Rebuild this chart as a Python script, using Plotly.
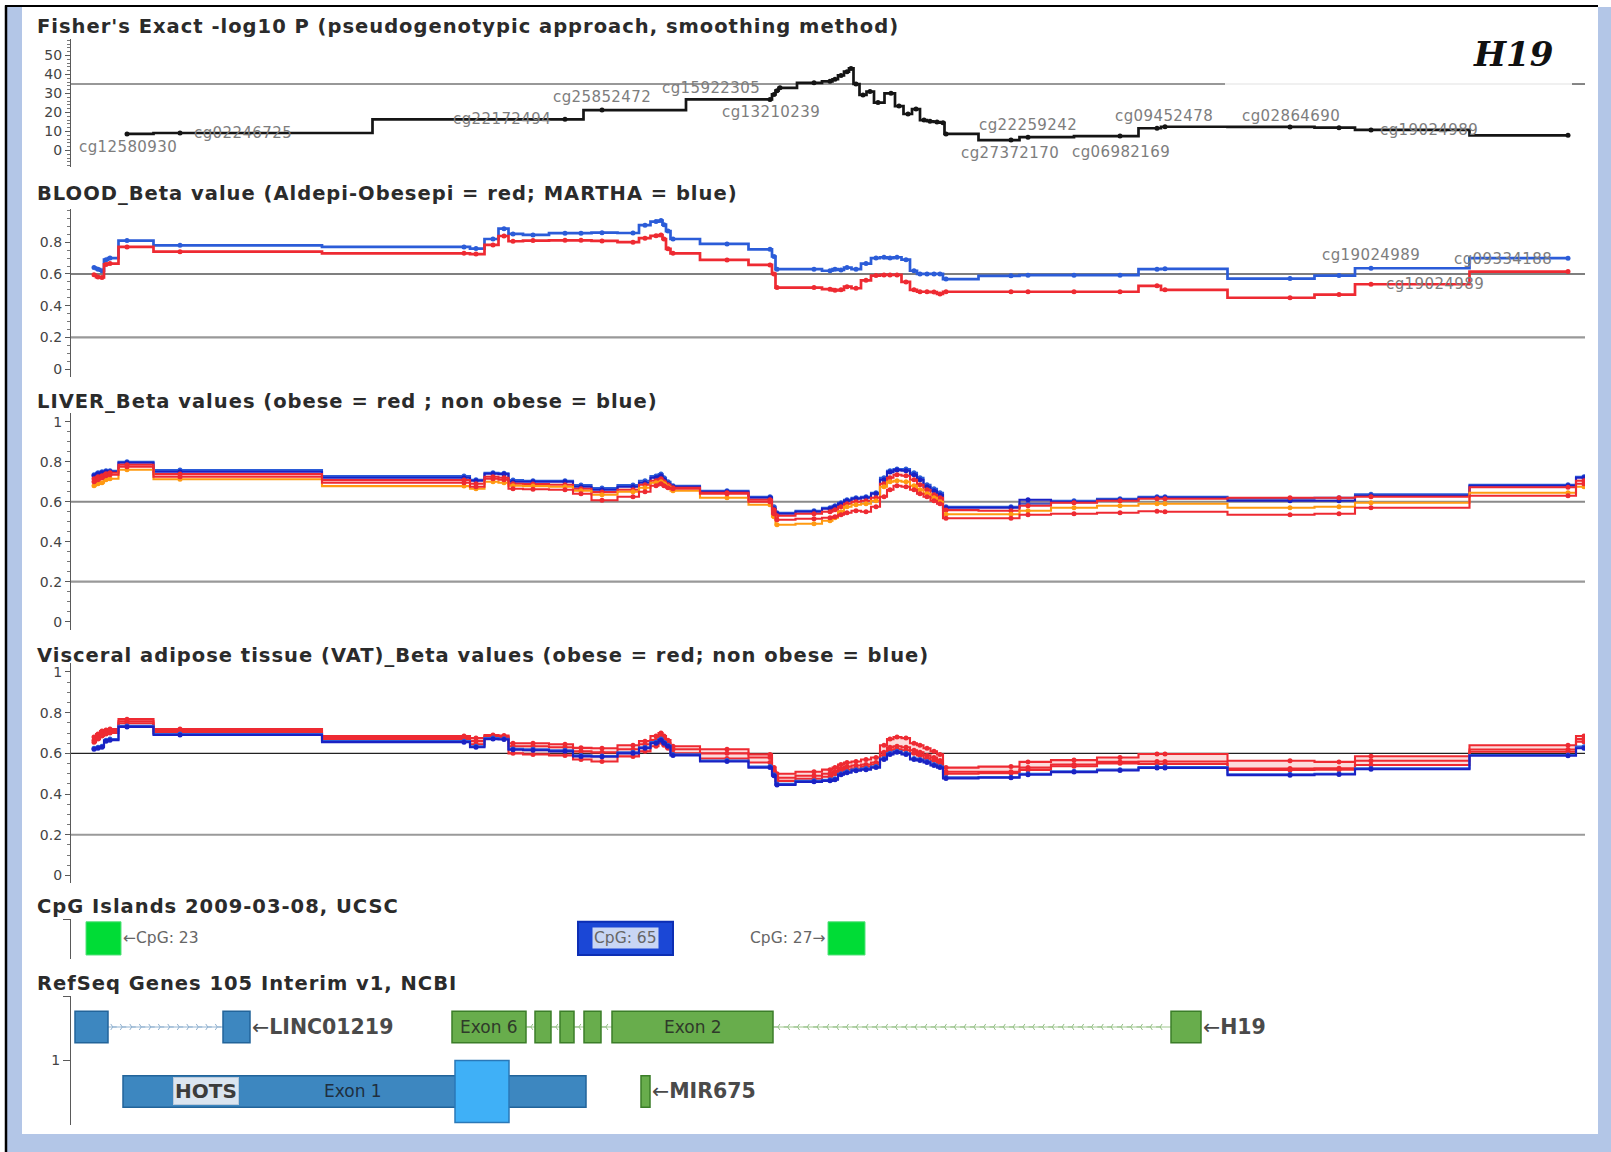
import numpy as np
import plotly.graph_objects as go

W, H = 1611, 1152
X0, X1 = 71, 1585  # horizontal span of the locus tracks (page px == track coordinate)

# ---------------------------------------------------------------- data
# CpG probe positions along the locus (track coordinate)
probe_pos = [94, 98, 102, 106, 110, 127, 180, 464, 476, 493, 504, 513, 533,
             565, 581, 602, 633, 645, 656, 661, 664, 668, 673, 727, 770, 774, 777,
             814, 830, 835, 841, 847, 856, 866, 876, 884, 890, 897, 906, 914, 920,
             927, 934, 940, 946, 1011, 1028, 1074, 1120, 1157, 1165, 1290, 1339,
             1371, 1568, 1584]

# Fisher exact test (-log10 P), smoothed
fisher_pos = [127, 180, 565, 602, 770, 774, 777, 780, 814, 830, 835, 841, 847, 851,
              856, 863, 870, 878, 891, 899, 908, 916, 924, 930, 937, 943, 946, 1011,
              1028, 1120, 1157, 1165, 1290, 1339, 1371, 1568]
fisher_val = [8.7, 9.2, 16.4, 21.3, 26.9, 29.5, 31.5, 33.0, 35.6, 36.4, 37.5, 39.5,
              41.5, 43.2, 35.0, 29.2, 31.0, 25.2, 30.1, 23.4, 19.2, 21.8, 16.0, 15.4,
              15.0, 14.6, 8.7, 5.5, 7.0, 7.6, 11.7, 12.5, 12.4, 12.0, 10.8, 8.0]
fisher_threshold = 35.0
fisher_labels = ["cg12580930", "cg02246725", "cg22172494", "cg25852472", "cg15922305",
                 "cg13210239", "cg22259242", "cg27372170", "cg06982169", "cg09452478",
                 "cg02864690", "cg19024989"]
fisher_label_x = [128, 243, 502, 602, 711, 771, 1028, 1010, 1121, 1164, 1291, 1429]
fisher_label_y = [2.0, 9.2, 16.4, 28.0, 32.7, 20.1, 13.4, -1.5, -0.6, 18.2, 18.2, 10.8]

# Blood beta values
blood_martha = [0.64, 0.63, 0.62, 0.69, 0.70, 0.81, 0.78, 0.77, 0.76, 0.82, 0.885, 0.852,
                0.846, 0.857, 0.857, 0.86, 0.858, 0.907, 0.93, 0.936, 0.91, 0.87, 0.82,
                0.789, 0.755, 0.71, 0.63, 0.63, 0.62, 0.63, 0.625, 0.64, 0.63, 0.665,
                0.70, 0.705, 0.70, 0.705, 0.69, 0.62, 0.60, 0.60, 0.60, 0.60, 0.568,
                0.588, 0.592, 0.592, 0.592, 0.63, 0.632, 0.571, 0.59, 0.636, 0.699, None]
blood_aldepi = [0.595, 0.58, 0.578, 0.66, 0.665, 0.77, 0.74, 0.73, 0.725, 0.783, 0.839,
                0.806, 0.81, 0.812, 0.812, 0.808, 0.80, 0.825, 0.84, 0.845, 0.82, 0.758,
                0.73, 0.688, 0.657, 0.60, 0.514, 0.514, 0.504, 0.497, 0.50, 0.52, 0.51,
                0.56, 0.59, 0.594, 0.594, 0.594, 0.55, 0.50, 0.488, 0.488, 0.486, 0.474,
                0.488, 0.488, 0.488, 0.488, 0.488, 0.525, 0.50, 0.45, 0.47, 0.535, 0.615, None]
blood_labels = ["cg19024989", "cg09334188", "cg19024989"]
blood_label_x = [1371, 1503, 1435]
blood_label_y = [0.72, 0.694, 0.537]

# Liver beta values
liver_nonobese_a = [0.735, 0.745, 0.75, 0.755, 0.755, 0.80, 0.758, 0.728, 0.71, 0.745, 0.742,
                    0.708, 0.705, 0.705, 0.683, 0.668, 0.683, 0.705, 0.728, 0.738, 0.72, 0.70,
                    0.68, 0.655, 0.625, 0.575, 0.545, 0.555, 0.57, 0.58, 0.595, 0.61, 0.62,
                    0.625, 0.645, 0.72, 0.755, 0.763, 0.763, 0.745, 0.72, 0.685, 0.665, 0.645,
                    0.575, 0.575, 0.59, 0.605, 0.615, 0.625, 0.625, 0.615, 0.62, 0.637, 0.685, 0.725]
liver_nonobese_b = [0.73, 0.74, 0.745, 0.75, 0.75, 0.795, 0.75, 0.72, 0.705, 0.74, 0.738,
                    0.70, 0.70, 0.70, 0.675, 0.66, 0.675, 0.695, 0.72, 0.73, 0.71, 0.69,
                    0.675, 0.65, 0.62, 0.565, 0.54, 0.55, 0.565, 0.575, 0.59, 0.605, 0.615,
                    0.62, 0.64, 0.71, 0.748, 0.758, 0.755, 0.735, 0.71, 0.675, 0.655, 0.635,
                    0.57, 0.57, 0.61, 0.598, 0.61, 0.62, 0.62, 0.605, 0.605, 0.63, 0.68, 0.72]
liver_obese_a = [0.715, 0.725, 0.73, 0.74, 0.745, 0.785, 0.738, 0.708, 0.69, 0.725, 0.72,
                 0.69, 0.688, 0.685, 0.665, 0.648, 0.66, 0.685, 0.705, 0.715, 0.70, 0.685,
                 0.67, 0.645, 0.61, 0.56, 0.53, 0.54, 0.55, 0.56, 0.575, 0.59, 0.60,
                 0.605, 0.62, 0.69, 0.72, 0.735, 0.73, 0.71, 0.685, 0.66, 0.635, 0.62,
                 0.558, 0.555, 0.58, 0.595, 0.605, 0.615, 0.615, 0.62, 0.62, 0.625, 0.672, 0.705]
liver_overweight = [0.68, 0.69, 0.695, 0.71, 0.715, 0.76, 0.712, 0.678, 0.665, 0.70, 0.695,
                    0.68, 0.678, 0.675, 0.655, 0.635, 0.65, 0.67, 0.695, 0.70, 0.69, 0.675,
                    0.655, 0.62, 0.585, 0.525, 0.485, 0.49, 0.505, 0.52, 0.55, 0.575, 0.585,
                    0.59, 0.605, 0.675, 0.70, 0.705, 0.70, 0.68, 0.66, 0.64, 0.62, 0.60,
                    0.537, 0.537, 0.555, 0.57, 0.58, 0.59, 0.59, 0.57, 0.575, 0.595, 0.645, 0.675]
liver_obese_b = [0.70, 0.71, 0.72, 0.73, 0.735, 0.775, 0.725, 0.695, 0.675, 0.715, 0.71,
                 0.665, 0.662, 0.66, 0.64, 0.607, 0.625, 0.65, 0.68, 0.69, 0.68, 0.67,
                 0.665, 0.64, 0.60, 0.54, 0.51, 0.515, 0.52, 0.525, 0.535, 0.545, 0.555,
                 0.55, 0.575, 0.625, 0.66, 0.68, 0.675, 0.66, 0.64, 0.625, 0.605, 0.59,
                 0.517, 0.517, 0.535, 0.54, 0.545, 0.552, 0.55, 0.535, 0.54, 0.57, 0.63, 0.69]

# Visceral adipose tissue beta values
vat_obese_hi = [0.68, 0.695, 0.71, 0.715, 0.72, 0.768, 0.72, 0.685, 0.675, 0.69, 0.688,
                0.65, 0.65, 0.645, 0.627, 0.625, 0.64, 0.66, 0.685, 0.70, 0.685, 0.665,
                0.635, 0.62, 0.595, 0.53, 0.50, 0.51, 0.52, 0.53, 0.545, 0.555, 0.56,
                0.57, 0.58, 0.64, 0.67, 0.68, 0.675, 0.65, 0.64, 0.625, 0.61, 0.595,
                0.53, 0.535, 0.558, 0.567, 0.58, 0.597, 0.597, 0.564, 0.558, 0.586, 0.64, 0.685]
vat_obese_mid = [0.665, 0.68, 0.695, 0.705, 0.71, 0.758, 0.71, 0.675, 0.66, 0.685, 0.683,
                 0.635, 0.635, 0.63, 0.61, 0.605, 0.62, 0.645, 0.665, 0.68, 0.665, 0.65,
                 0.62, 0.60, 0.58, 0.515, 0.48, 0.49, 0.50, 0.51, 0.525, 0.535, 0.54,
                 0.545, 0.555, 0.605, 0.63, 0.635, 0.63, 0.615, 0.605, 0.59, 0.58, 0.565,
                 0.51, 0.51, 0.53, 0.545, 0.558, 0.56, 0.56, 0.525, 0.527, 0.564, 0.619, 0.67]
vat_obese_lo = [0.655, 0.67, 0.685, 0.695, 0.70, 0.748, 0.70, 0.665, 0.645, 0.68, 0.678,
                0.60, 0.595, 0.59, 0.57, 0.56, 0.585, 0.61, 0.635, 0.655, 0.64, 0.625,
                0.60, 0.575, 0.555, 0.50, 0.465, 0.475, 0.485, 0.50, 0.51, 0.52, 0.525,
                0.535, 0.545, 0.59, 0.615, 0.62, 0.615, 0.60, 0.59, 0.575, 0.565, 0.55,
                0.50, 0.503, 0.518, 0.537, 0.551, 0.548, 0.548, 0.518, 0.52, 0.543, 0.608, 0.657]
vat_nonobese_a = [0.625, 0.63, 0.635, 0.665, 0.67, 0.735, 0.695, 0.66, 0.635, 0.675, 0.672,
                  0.622, 0.62, 0.615, 0.59, 0.587, 0.605, 0.63, 0.655, 0.67, 0.655, 0.64,
                  0.595, 0.565, 0.535, 0.495, 0.45, 0.465, 0.47, 0.475, 0.50, 0.51, 0.52,
                  0.525, 0.535, 0.575, 0.60, 0.61, 0.60, 0.575, 0.57, 0.56, 0.545, 0.535,
                  0.482, 0.483, 0.50, 0.512, 0.52, 0.533, 0.533, 0.497, 0.50, 0.526, 0.592, 0.633]
vat_nonobese_b = [0.62, 0.625, 0.63, 0.66, 0.665, 0.73, 0.69, 0.655, 0.63, 0.67, 0.668,
                  0.618, 0.615, 0.61, 0.585, 0.583, 0.60, 0.625, 0.65, 0.665, 0.65, 0.635,
                  0.59, 0.56, 0.53, 0.49, 0.445, 0.46, 0.465, 0.47, 0.495, 0.505, 0.515,
                  0.52, 0.53, 0.57, 0.595, 0.605, 0.595, 0.57, 0.565, 0.555, 0.54, 0.53,
                  0.477, 0.48, 0.495, 0.508, 0.516, 0.528, 0.528, 0.493, 0.496, 0.522, 0.588, 0.625]

# CpG islands (start, end, label)
cpg_start = [86, 578, 828]
cpg_end = [121, 673, 865]
cpg_name = ["CpG: 23", "CpG: 65", "CpG: 27"]

# RefSeq genes
linc_exons = [(75, 108), (223, 250)]
h19_exons = [(452, 526), (535, 551), (560, 574), (584, 601), (612, 773), (1171, 1201)]
h19_exon_names = ["Exon 6", "", "", "", "Exon 2", ""]
hots_exon = (123, 586)
hots_cds = (455, 509)
mir675_exon = (641, 650)

# ---------------------------------------------------------------- helpers
def pxx(x):
    return x / W


def pxy(y):
    return 1 - y / H


def spaced(text, px):
    return "<span style='letter-spacing:%.2fpx'>%s</span>" % (px, text)


FONT = "DejaVu Sans"
fig = go.Figure()

# panel layout: (top px, bottom px, y range)
panels = [
    (39, 167, [-8.7, 58.7]),
    (209, 377, [-0.049, 1.009]),
    (413, 630, [-0.0415, 1.0435]),
    (663, 883, [-0.037, 1.044]),
    (919, 959, [0, 1]),
    (996, 1125, [0, 2]),
]


def ax(i):
    return "" if i == 1 else str(i)


def add_step(xs, ys, color, panel, width=2.3, size=5, fill=None, fillcolor=None):
    fig.add_trace(go.Scatter(
        x=xs, y=ys, mode="lines+markers",
        line=dict(shape="hvh", color=color, width=width),
        marker=dict(size=size, color=color),
        fill=fill, fillcolor=fillcolor,
        xaxis="x" + ax(panel), yaxis="y" + ax(panel),
        hoverinfo="skip", showlegend=False))


BLUE = "#2b5cd8"
NAVY = "#1a22c4"
RED = "#ee2a32"
ORANGE = "#ff9a12"

# Fisher panel
add_step(fisher_pos, fisher_val, "#151515", 1, width=2.7, size=5)

# Blood panel
add_step(probe_pos, blood_martha, BLUE, 2, width=2.7)
add_step(probe_pos, blood_aldepi, RED, 2, width=2.7)

# Liver panel
add_step(probe_pos, liver_nonobese_a, BLUE, 3, width=2.1)
add_step(probe_pos, liver_nonobese_b, NAVY, 3, width=2.1, fill="tonexty", fillcolor="rgba(60,90,220,0.22)")
add_step(probe_pos, liver_obese_a, RED, 3, width=2.1, fill="tonexty", fillcolor="rgba(238,60,60,0.12)")
add_step(probe_pos, liver_overweight, ORANGE, 3, width=2.1)
add_step(probe_pos, liver_obese_b, RED, 3, width=2.1)

# VAT panel
add_step(probe_pos, vat_obese_hi, RED, 4, width=2.1)
add_step(probe_pos, vat_obese_mid, RED, 4, width=2.1, fill="tonexty", fillcolor="rgba(238,60,60,0.18)")
add_step(probe_pos, vat_obese_lo, RED, 4, width=2.1, fill="tonexty", fillcolor="rgba(238,60,60,0.18)")
add_step(probe_pos, vat_nonobese_a, BLUE, 4, width=2.1)
add_step(probe_pos, vat_nonobese_b, NAVY, 4, width=2.1, fill="tonexty", fillcolor="rgba(60,90,220,0.2)")

# intron chevrons on the gene track
def add_intron(x0, x1, y, color, chevron_color, symbol, spacing):
    fig.add_trace(go.Scatter(x=[x0, x1], y=[y, y], mode="lines",
                             line=dict(color=color, width=2),
                             xaxis="x6", yaxis="y6", hoverinfo="skip", showlegend=False))
    cx = np.arange(x0 + spacing / 2, x1 - 2, spacing)
    if len(cx):
        fig.add_trace(go.Scatter(x=cx, y=[y] * len(cx), mode="markers",
                                 marker=dict(symbol=symbol, size=5,
                                             line=dict(color=chevron_color, width=1)),
                                 xaxis="x6", yaxis="y6", hoverinfo="skip", showlegend=False))


ROW1, ROW2 = 1.52, 0.52
HALF = 0.245

for (a0, a1), (b0, b1) in zip(linc_exons[:-1], linc_exons[1:]):
    add_intron(a1, b0, ROW1, "#c9d9e8", "#8fb0cf", "y-right", 9.5)
for (a0, a1), (b0, b1) in zip(h19_exons[:-1], h19_exons[1:]):
    add_intron(a1, b0, ROW1, "#cfe3c6", "#93bf86", "y-left", 9.8)

# ---------------------------------------------------------------- axes
layout_axes = {}
for i, (top, bot, rng) in enumerate(panels, start=1):
    s = ax(i)
    layout_axes["xaxis" + s] = dict(domain=[pxx(X0), pxx(X1)], range=[X0, X1],
                                    visible=False, anchor="y" + s, fixedrange=True)
    yax = dict(domain=[pxy(bot), pxy(top)], range=rng, anchor="x" + s,
               showline=True, linecolor="#5a5a5a", linewidth=1.2,
               ticks="outside", ticklen=5, tickcolor="#5a5a5a", tickwidth=1,
               tickfont=dict(family=FONT, size=14, color="#444"),
               showgrid=False, zeroline=False, fixedrange=True)
    if i == 1:
        yax.update(tickmode="linear", tick0=0, dtick=10,
                   minor=dict(tickmode="linear", tick0=0, dtick=2, ticks="outside",
                              ticklen=3, tickcolor="#777"))
    elif i == 2:
        yax.update(tickmode="array", tickvals=[0, 0.2, 0.4, 0.6, 0.8],
                   ticktext=["0", "0.2", "0.4", "0.6", "0.8"],
                   minor=dict(tickmode="linear", tick0=0, dtick=0.05, ticks="outside",
                              ticklen=3, tickcolor="#777"))
    elif i in (3, 4):
        yax.update(tickmode="linear", tick0=0, dtick=0.2,
                   minor=dict(tickmode="linear", tick0=0, dtick=0.05, ticks="outside",
                              ticklen=3, tickcolor="#777"))
    elif i == 5:
        yax.update(tickmode="array", tickvals=[1], ticktext=[""], ticklen=7)
    else:
        yax.update(tickmode="array", tickvals=[1, 2], ticktext=["1", ""], ticklen=7)
    layout_axes["yaxis" + s] = yax

# ---------------------------------------------------------------- shapes
shapes = []
# page frame
shapes.append(dict(type="rect", xref="paper", yref="paper", layer="below",
                   x0=pxx(7), x1=1, y0=0, y1=pxy(7),
                   fillcolor="#b3c6e7", line=dict(width=0)))
shapes.append(dict(type="rect", xref="paper", yref="paper", layer="below",
                   x0=pxx(22), x1=pxx(1598), y0=pxy(1134), y1=pxy(7),
                   fillcolor="white", line=dict(width=0)))
shapes.append(dict(type="line", xref="paper", yref="paper", x0=pxx(6), x1=pxx(6),
                   y0=0, y1=pxy(5.5), line=dict(color="black", width=2.5)))
shapes.append(dict(type="line", xref="paper", yref="paper", x0=pxx(5), x1=pxx(1598),
                   y0=pxy(6), y1=pxy(6), line=dict(color="black", width=2)))

# reference lines
def hline(panel, y, color, width, x0=0, x1=1):
    shapes.append(dict(type="line", xref="x%s domain" % ax(panel), yref="y" + ax(panel),
                       x0=x0, x1=x1, y0=y, y1=y, layer="below",
                       line=dict(color=color, width=width)))


split = (1225 - X0) / (X1 - X0)
split2 = (1572 - X0) / (X1 - X0)
hline(1, fisher_threshold, "#333", 1.2, 0, split)
hline(1, fisher_threshold, "#e2e2e2", 1.2, split, split2)
hline(1, fisher_threshold, "#333", 1.2, split2, 1)
hline(2, 0.6, "#555", 1.5)
hline(2, 0.2, "#999", 2.2)
hline(3, 0.6, "#8a8a8a", 2)
hline(3, 0.2, "#999", 2.2)
hline(4, 0.6, "#222", 1.2)
hline(4, 0.2, "#9a9a9a", 2.2)

# CpG islands
for s0, s1, name in zip(cpg_start, cpg_end, cpg_name):
    big = name == "CpG: 65"
    shapes.append(dict(type="rect", xref="x5", yref="y5", x0=s0, x1=s1, y0=0.1, y1=0.93,
                       fillcolor="#1b47d6" if big else "#00dc36",
                       line=dict(color="#0c2eb4" if big else "#56e07c", width=2 if big else 1)))

# genes
def exon(x0, x1, yc, half, fill, edge):
    shapes.append(dict(type="rect", xref="x6", yref="y6", x0=x0, x1=x1,
                       y0=yc - half, y1=yc + half, fillcolor=fill,
                       line=dict(color=edge, width=1.5)))


for e0, e1 in linc_exons:
    exon(e0, e1, ROW1, HALF, "#3d87c0", "#22649a")
for e0, e1 in h19_exons:
    exon(e0, e1, ROW1, HALF, "#68ad4c", "#3b7d28")
exon(hots_exon[0], hots_exon[1], ROW2, HALF, "#3d87c0", "#22649a")
exon(hots_cds[0], hots_cds[1], ROW2, 0.48, "#3fb0f7", "#2a78b8")
exon(mir675_exon[0], mir675_exon[1], ROW2, HALF, "#68ad4c", "#3b7d28")

# ---------------------------------------------------------------- annotations
ann = []
titles = [
    ("Fisher's Exact -log10 P (pseudogenotypic approach, smoothing method)", 26.5),
    ("BLOOD_Beta value (Aldepi-Obesepi = red; MARTHA = blue)", 193),
    ("LIVER_Beta values (obese = red ; non obese = blue)", 401.5),
    ("Visceral adipose tissue (VAT)_Beta values (obese = red; non obese = blue)", 655),
    ("CpG Islands 2009-03-08, UCSC", 906.5),
    ("RefSeq Genes 105 Interim v1, NCBI", 983),
]
for text, ypos in titles:
    ann.append(dict(text=spaced(text, 1.0), xref="paper", yref="paper",
                    x=pxx(35), y=pxy(ypos), xanchor="left", yanchor="middle",
                    showarrow=False,
                    font=dict(family=FONT, size=19.5, color="#2b2b2b", weight="bold")))

ann.append(dict(text="H19", xref="paper", yref="paper", x=pxx(1513), y=pxy(54),
                xanchor="center", yanchor="middle", showarrow=False,
                font=dict(family="DejaVu Serif", size=34, color="#111",
                          weight="bold", style="italic")))

LABEL_FONT = dict(family=FONT, size=15, color="#7d7d7d")
for t, x, y in zip(fisher_labels, fisher_label_x, fisher_label_y):
    ann.append(dict(text=spaced(t, 0.4), x=x, y=y, xref="x", yref="y", showarrow=False,
                    xanchor="center", yanchor="middle", font=LABEL_FONT))
for t, x, y in zip(blood_labels, blood_label_x, blood_label_y):
    ann.append(dict(text=spaced(t, 0.4), x=x, y=y, xref="x2", yref="y2", showarrow=False,
                    xanchor="center", yanchor="middle", font=LABEL_FONT))

# CpG island labels
CPG_FONT = dict(family=FONT, size=15.5, color="#666")
ann.append(dict(text="\u2190" + cpg_name[0], x=cpg_end[0], y=0.52, xref="x5", yref="y5",
                xanchor="left", yanchor="middle", showarrow=False, font=CPG_FONT))
ann.append(dict(text=cpg_name[1], x=(cpg_start[1] + cpg_end[1]) / 2, y=0.52, xref="x5",
                yref="y5", xanchor="center", yanchor="middle", showarrow=False,
                bgcolor="#c9d6f4", borderpad=1, font=CPG_FONT))
ann.append(dict(text=cpg_name[2] + "\u2192", x=cpg_start[2], y=0.52, xref="x5", yref="y5",
                xanchor="right", yanchor="middle", showarrow=False, font=CPG_FONT))

# gene labels
GENE_FONT = dict(family=FONT, size=20.5, color="#4a4a4a")
ann.append(dict(text="\u2190<b>LINC01219</b>", x=linc_exons[-1][1], y=ROW1, xref="x6",
                yref="y6", xanchor="left", yanchor="middle", showarrow=False, font=GENE_FONT))
ann.append(dict(text="\u2190<b>H19</b>", x=h19_exons[-1][1], y=ROW1, xref="x6",
                yref="y6", xanchor="left", yanchor="middle", showarrow=False, font=GENE_FONT))
ann.append(dict(text="\u2190<b>MIR675</b>", x=mir675_exon[1], y=ROW2, xref="x6",
                yref="y6", xanchor="left", yanchor="middle", showarrow=False, font=GENE_FONT))
for (e0, e1), name in zip(h19_exons, h19_exon_names):
    if name:
        ann.append(dict(text=name, x=(e0 + e1) / 2, y=ROW1, xref="x6", yref="y6",
                        showarrow=False, font=dict(family=FONT, size=17, color="#2f3a2a")))
ann.append(dict(text="Exon 1", x=353, y=ROW2, xref="x6", yref="y6", showarrow=False,
                font=dict(family=FONT, size=17, color="#1f2f3f")))
ann.append(dict(text="<b>HOTS</b>", x=206, y=ROW2, xref="x6", yref="y6", showarrow=False,
                bgcolor="#dbe5f0", bordercolor="#b9c9da", borderwidth=1, borderpad=1,
                font=dict(family=FONT, size=20, color="#3c3c3c")))

fig.update_layout(
    width=W, height=H, margin=dict(l=0, r=0, t=0, b=0),
    paper_bgcolor="white", plot_bgcolor="rgba(0,0,0,0)",
    showlegend=False, shapes=shapes, annotations=ann, **layout_axes)

fig.write_html("out.html")
